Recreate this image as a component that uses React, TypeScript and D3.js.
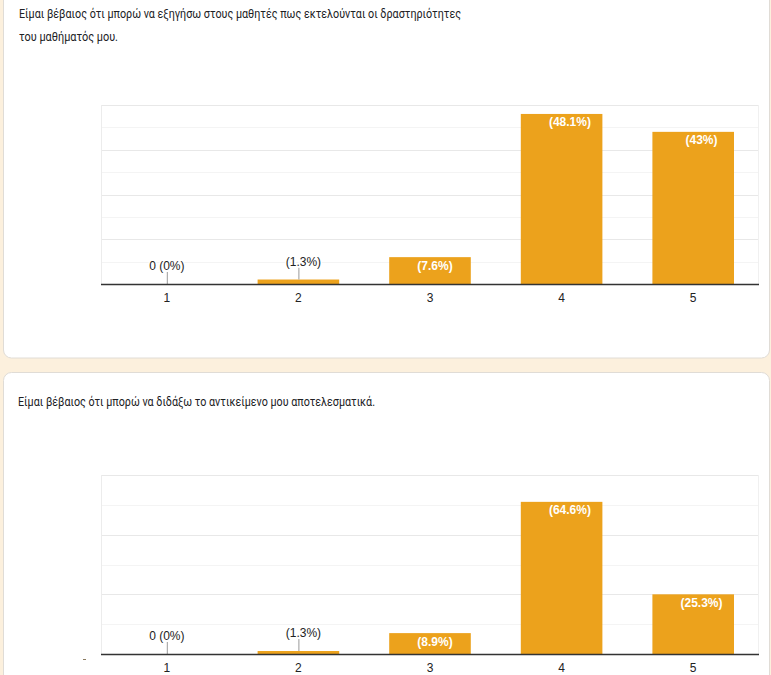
import React from "react";
import * as d3 from "d3";

// answers 1..5, same scale for both questions
const categories = ["1", "2", "3", "4", "5"];

const title1Lines = [
  "Είμαι βέβαιος ότι μπορώ να εξηγήσω στους μαθητές πως εκτελούνται οι δραστηριότητες",
  "του μαθήματός μου.",
];
const counts1 = [0, 1, 6, 38, 34];
const percents1 = ["0%", "1.3%", "7.6%", "48.1%", "43%"];

const title2Lines = ["Είμαι βέβαιος ότι μπορώ να διδάξω το αντικείμενο μου αποτελεσματικά."];
const counts2 = [0, 1, 7, 51, 20];
const percents2 = ["0%", "1.3%", "8.9%", "64.6%", "25.3%"];

const W = 771;
const H = 675;
const BAR = "#eca21c";
const FONT = "Arial, 'Liberation Sans', sans-serif";
const TITLE_FONT = "Roboto, 'Open Sans', sans-serif";

function BarChart(props: {
  counts: number[];
  percents: string[];
  top: number;
  bottom: number;
  max: number;
  step: number;
  major: number;
}) {
  const { counts, percents, top, bottom, max, step, major } = props;
  const left = 101;
  const right = 759;

  const x = d3
    .scaleBand()
    .domain(categories)
    .range([left, right])
    .paddingInner(0.38)
    .paddingOuter(0.19);
  const y = d3.scaleLinear().domain([0, max]).range([bottom, top]);
  const ticks = d3.range(step, max + 1, step);

  return (
    <g>
      {/* grid */}
      {ticks.map((t) => (
        <line
          key={t}
          x1={left}
          x2={right}
          y1={Math.round(y(t)) + 0.5}
          y2={Math.round(y(t)) + 0.5}
          stroke={t % major === 0 ? "#e8e8e8" : "#f4f4f4"}
        />
      ))}
      <line x1={left + 0.5} x2={left + 0.5} y1={y(max)} y2={bottom} stroke="#ececec" />
      <line x1={right - 0.5} x2={right - 0.5} y1={y(max)} y2={bottom} stroke="#f0f0f0" />

      {categories.map((c, i) => {
        const cx = (x(c) as number) + x.bandwidth() / 2;
        const yTop = y(counts[i]);
        const h = bottom - yTop;
        // the count part of the label is not visible, only the percentage
        const shift = counts[i] === 0 ? 0 : (String(counts[i]).length * 6.67 + 3.33) / 2;
        const txt = counts[i] === 0 ? `0 (${percents[i]})` : `(${percents[i]})`;
        if (h > 20) {
          return (
            <g key={c}>
              <rect x={x(c)} y={yTop} width={x.bandwidth()} height={h} fill={BAR} />
              <text
                x={cx + shift}
                y={yTop + 12.5}
                textAnchor="middle"
                fontFamily={FONT}
                fontSize={12}
                fontWeight="bold"
                fill="#ffffff"
              >
                {txt}
              </text>
            </g>
          );
        }
        return (
          <g key={c}>
            {h > 0 && <rect x={x(c)} y={yTop} width={x.bandwidth()} height={h} fill={BAR} />}
            <line x1={cx + 0.5} x2={cx + 0.5} y1={yTop - 12} y2={yTop} stroke="#9a9a9a" />
            <text
              x={cx + shift}
              y={yTop - 14}
              textAnchor="middle"
              fontFamily={FONT}
              fontSize={12}
              fill="#222222"
              stroke="#ffffff"
              strokeWidth={3}
              paintOrder="stroke"
            >
              {txt}
            </text>
          </g>
        );
      })}

      {/* baseline */}
      <line x1={left} x2={right} y1={bottom + 0.5} y2={bottom + 0.5} stroke="#333333" strokeWidth={1.5} />

      {categories.map((c) => (
        <text
          key={c}
          x={(x(c) as number) + x.bandwidth() / 2}
          y={bottom + 18}
          textAnchor="middle"
          fontFamily={FONT}
          fontSize={12}
          fill="#222222"
        >
          {c}
        </text>
      ))}
    </g>
  );
}

export default function App() {
  return (
    <div style={{ position: "absolute", left: 0, top: 0 }}>
      <svg width={W} height={H} style={{ display: "block" }}>
        <rect x={0} y={0} width={W} height={H} fill="#fcf0dd" />

        {/* card 1 */}
        <rect x={3.5} y={-20} width={766} height={378} rx={8} fill="#ffffff" stroke="#e0dcd6" />
        {title1Lines.map((t, i) => (
          <text
            key={i}
            x={19}
            y={18 + i * 23}
            fontFamily={TITLE_FONT}
            fontSize={13}
            fill="#202124"
            textLength={i === 0 ? 442 : 99}
            lengthAdjust="spacingAndGlyphs"
          >
            {t}
          </text>
        ))}
        <BarChart counts={counts1} percents={percents1} top={105} bottom={284} max={40} step={5} major={10} />

        {/* card 2 */}
        <rect x={3.5} y={372.5} width={766} height={330} rx={8} fill="#ffffff" stroke="#e0dcd6" />
        {title2Lines.map((t, i) => (
          <text
            key={i}
            x={18}
            y={406 + i * 23}
            fontFamily={TITLE_FONT}
            fontSize={13}
            fill="#202124"
            textLength={357}
            lengthAdjust="spacingAndGlyphs"
          >
            {t}
          </text>
        ))}
        <BarChart counts={counts2} percents={percents2} top={475} bottom={654} max={60} step={10} major={20} />
        <line x1={83} x2={86} y1={659.5} y2={659.5} stroke="#8a7a60" />
      </svg>
    </div>
  );
}
